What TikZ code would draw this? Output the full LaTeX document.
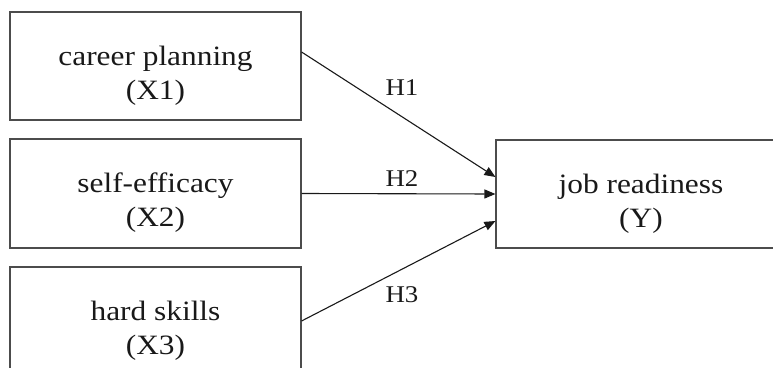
\documentclass[tikz,border=0pt]{standalone}
\usepackage{fontspec}
\setmainfont{Liberation Serif}[FakeStretch=1.12]
\usetikzlibrary{arrows.meta}
\newcommand\topgap{\rule{0pt}{38pt}}
\tikzset{
  varbox/.style={draw=black!70, line width=1.1pt, align=center, inner sep=0pt,
    font=\fontsize{28}{34}\selectfont, text=black!90},
  hlabel/.style={font=\fontsize{24}{26}\selectfont, text=black!90, inner sep=0pt},
  path/.style={draw=black!90, line width=1.1pt, -{Triangle[length=11pt,width=9pt]}}
}
\begin{document}
\begin{tikzpicture}[x=1pt,y=-1pt]
\useasboundingbox (0,0) rectangle (773,367);
\clip (0,0) rectangle (773,367);
\node[varbox, minimum width=291pt, minimum height=108pt] (b1) at (155.5,66) {\topgap career planning\\(X1)};
\node[varbox, minimum width=291pt, minimum height=109pt] (b2) at (155.5,193.5) {\topgap self-efficacy\\(X2)};
\node[varbox, minimum width=291pt, minimum height=108pt] (b3) at (155.5,321) {\topgap hard skills\\(X3)};
\node[varbox, minimum width=290pt, minimum height=108pt] (y) at (641,194) {\topgap job readiness\\(Y)};
\draw[path] ([yshift=14pt]b1.east) -- ([yshift=17pt]y.west);
\draw[path] (b2.east) -- (y.west);
\draw[path] (b3.east) -- ([yshift=-27pt]y.west);
\node[hlabel] (h1) at (402,88) {H1};
\node[hlabel] (h2) at (402,179) {H2};
\node[hlabel] (h3) at (402,295) {H3};
\end{tikzpicture}
\end{document}
